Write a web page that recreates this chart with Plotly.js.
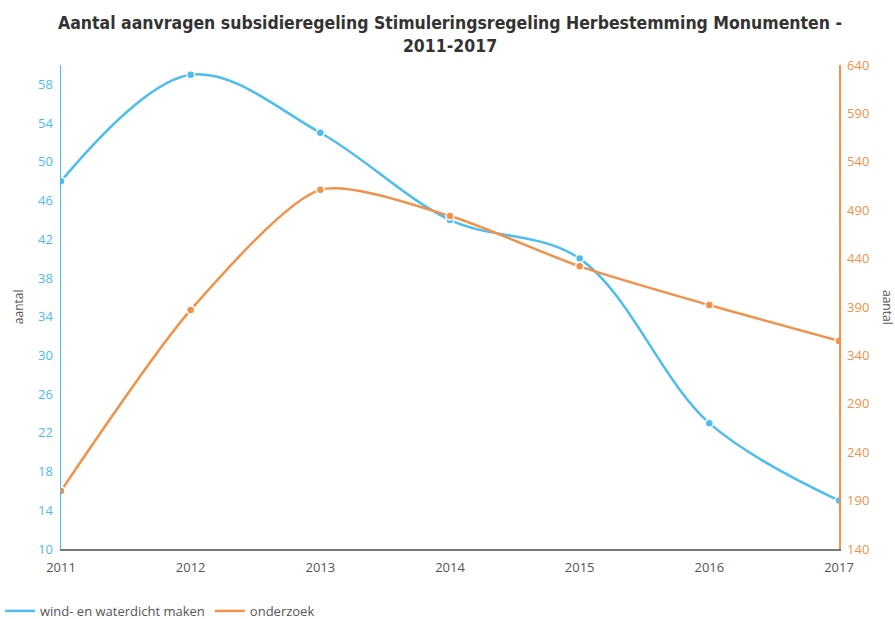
<!DOCTYPE html>
<html>
<head>
<meta charset="utf-8">
<script src="https://cdn.plot.ly/plotly-3.0.1.min.js"></script>
<style>html,body{margin:0;padding:0;background:#fff;}#chart{width:895px;height:619px;}</style>
</head>
<body>
<div id="chart"></div>
<script>
const years = ['2011','2012','2013','2014','2015','2016','2017'];
const windWaterdicht = [48, 59, 53, 44, 40, 23, 15];
const onderzoek = [200, 387, 511, 484, 432, 392, 355];
const leftTicks = [10,14,18,22,26,30,34,38,42,46,50,54,58];
const rightTicks = [140,190,240,290,340,390,440,490,540,590,640];
const seriesNames = ['wind- en waterdicht maken', 'onderzoek'];

const blue = '#4cbdf0';
const orange = '#f0924a';
const font = '"Open Sans", sans-serif';
const xs = years.map(Number);

const traces = [
  {
    x: xs, y: windWaterdicht, name: seriesNames[0], yaxis: 'y', showlegend: false,
    type: 'scatter', mode: 'lines+markers',
    line: {color: blue, width: 2.5, shape: 'spline', smoothing: 1},
    marker: {color: blue, size: 8, line: {color: '#fff', width: 1.5}}
  },
  {
    x: xs, y: onderzoek, name: seriesNames[1], yaxis: 'y2', showlegend: false,
    type: 'scatter', mode: 'lines+markers',
    line: {color: orange, width: 2.5, shape: 'spline', smoothing: 0.7},
    marker: {color: orange, size: 8, line: {color: '#fff', width: 1.5}}
  },
  {x: [null], y: [null], name: seriesNames[0], type: 'scatter', mode: 'lines',
   line: {color: blue, width: 2.5}, showlegend: true},
  {x: [null], y: [null], name: seriesNames[1], type: 'scatter', mode: 'lines',
   line: {color: orange, width: 2.5}, showlegend: true}
];

const layout = {
  width: 895, height: 619,
  margin: {l: 61, r: 56, t: 65, b: 70},
  paper_bgcolor: '#fff', plot_bgcolor: '#fff',
  font: {family: font, size: 12, color: '#555'},
  title: {
    text: '<b>Aantal aanvragen subsidieregeling Stimuleringsregeling Herbestemming Monumenten -<br>2011-2017</b>',
    font: {family: '"DejaVu Sans Condensed", "Liberation Sans Narrow", sans-serif', size: 17.5, color: '#333'},
    x: 0.5, xanchor: 'center', xref: 'paper', yref: 'container', y: 0.953, yanchor: 'middle', automargin: false
  },
  showlegend: true,
  legend: {orientation: 'h', xref: 'container', yref: 'container', x: -0.041, xanchor: 'left', y: 0.013, yanchor: 'middle',
    font: {family: font, size: 13, color: '#555'}, itemwidth: 30, tracegroupgap: 0},
  xaxis: {
    range: [2011, 2017], tickvals: xs, ticktext: years,
    showgrid: false, zeroline: false, showline: true, linecolor: '#777', linewidth: 1.5,
    ticks: '', ticklabelstandoff: 6, tickfont: {family: font, size: 13, color: '#555'}
  },
  yaxis: {
    range: [10, 60], tickvals: leftTicks, showgrid: false, zeroline: false,
    showline: true, linecolor: blue, linewidth: 1.5, ticks: '', ticklabelstandoff: 4,
    tickfont: {family: font, size: 13, color: blue}
  },
  yaxis2: {
    range: [140, 640], tickvals: rightTicks, overlaying: 'y', side: 'right',
    showgrid: false, zeroline: false, showline: true, linecolor: orange, linewidth: 1.5, ticks: '', ticklabelstandoff: 4,
    tickfont: {family: font, size: 13, color: orange}
  },
  annotations: [
    {text: 'aantal', textangle: -90, xref: 'paper', yref: 'paper', x: -0.055, y: 0.5,
     xanchor: 'center', yanchor: 'middle', showarrow: false,
     font: {family: font, size: 12, color: '#555'}},
    {text: 'aantal', textangle: 90, xref: 'paper', yref: 'paper', x: 1.063, y: 0.5,
     xanchor: 'center', yanchor: 'middle', showarrow: false,
     font: {family: font, size: 12, color: '#555'}}
  ]
};

Plotly.newPlot('chart', traces, layout, {displayModeBar: false, staticPlot: true});
</script>
</body>
</html>
